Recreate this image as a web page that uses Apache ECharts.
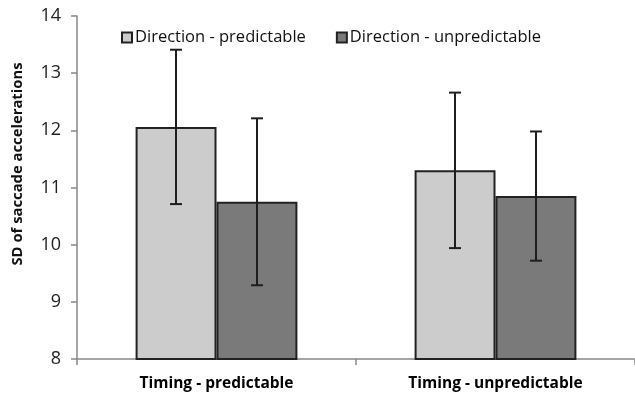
<!DOCTYPE html>
<html>
<head>
<meta charset="utf-8">
<script src="https://cdn.jsdelivr.net/npm/echarts@6/dist/echarts.min.js"></script>
<style>html,body{margin:0;padding:0;background:#fff}#c{width:635px;height:393px}</style>
</head>
<body>
<div id="c"></div>
<script>
const categories = ['Timing - predictable', 'Timing - unpredictable'];
const seriesNames = ['Direction - predictable', 'Direction - unpredictable'];
const predictableMeans = [12.06, 11.30];
const predictableErrors = [1.35, 1.36];
const unpredictableMeans = [10.75, 10.85];
const unpredictableErrors = [1.46, 1.13];
const yMin = 8, yMax = 14, yStep = 1;
const yAxisTitle = 'SD of saccade accelerations';

const GAP = 0.42;
const errData = [];
categories.forEach((c, i) => {
  errData.push([i, predictableMeans[i], predictableErrors[i], 0]);
  errData.push([i, unpredictableMeans[i], unpredictableErrors[i], 1]);
});

const font = '"Open Sans", sans-serif';
const chart = echarts.init(document.getElementById('c'));
chart.setOption({
  animation: false,
  textStyle: { fontFamily: font },
  grid: { left: 77, top: 16, width: 561, height: 343, containLabel: false },
  legend: {
    left: 116, top: 24, itemGap: 30, itemWidth: 10, itemHeight: 10,
    icon: 'rect',
    textStyle: { fontSize: 16.5, color: '#111', fontFamily: font, padding: [0, 0, 0, -2] },
    data: seriesNames
  },
  xAxis: {
    type: 'category', data: categories,
    axisLine: { lineStyle: { color: '#888', width: 1.5 } },
    axisTick: { show: true, length: 6, lineStyle: { color: '#888', width: 1.5 } },
    axisLabel: { fontWeight: 'bold', fontSize: 15.5, color: '#000', margin: 17, fontFamily: font }
  },
  yAxis: {
    type: 'value', min: yMin, max: yMax, interval: yStep,
    axisLine: { show: true, lineStyle: { color: '#888', width: 1.5 } },
    axisTick: { show: true, length: 6, lineStyle: { color: '#888', width: 1.5 } },
    splitLine: { show: false },
    axisLabel: { fontSize: 18, color: '#222', margin: 16, fontFamily: font }
  },
  graphic: [{
    type: 'text', x: 18, y: 164, rotation: Math.PI / 2,
    style: { text: yAxisTitle, font: 'bold 14.8px ' + font, fill: '#111', textAlign: 'center', textVerticalAlign: 'middle' }
  }],
  series: [
    {
      name: seriesNames[0], type: 'bar', data: predictableMeans,
      barGap: '0%', barCategoryGap: (GAP * 100) + '%',
      itemStyle: { color: '#cccccc', borderColor: '#222', borderWidth: 2 }
    },
    {
      name: seriesNames[1], type: 'bar', data: unpredictableMeans,
      barGap: '0%', barCategoryGap: (GAP * 100) + '%',
      itemStyle: { color: '#7a7a7a', borderColor: '#222', borderWidth: 2 }
    },
    {
      type: 'custom', data: errData, z: 10,
      encode: { x: 0, y: 1 },
      renderItem: function (params, api) {
        const ci = api.value(0), m = api.value(1), e = api.value(2), s = api.value(3);
        const catW = api.size([1, 0])[0];
        const bw = catW * (1 - GAP) / 2;
        const c = api.coord([ci, m]);
        const x = Math.round(c[0] + (s === 0 ? -bw / 2 : bw / 2));
        const yT = api.coord([ci, m + e])[1];
        const yB = api.coord([ci, m - e])[1];
        const st = { stroke: '#1e1e1e', lineWidth: 2 };
        const h = 6;
        return {
          type: 'group', children: [
            { type: 'line', shape: { x1: x, y1: yT, x2: x, y2: yB }, style: st },
            { type: 'line', shape: { x1: x - h, y1: yT, x2: x + h, y2: yT }, style: st },
            { type: 'line', shape: { x1: x - h, y1: yB, x2: x + h, y2: yB }, style: st }
          ]
        };
      }
    }
  ]
});
</script>
</body>
</html>
